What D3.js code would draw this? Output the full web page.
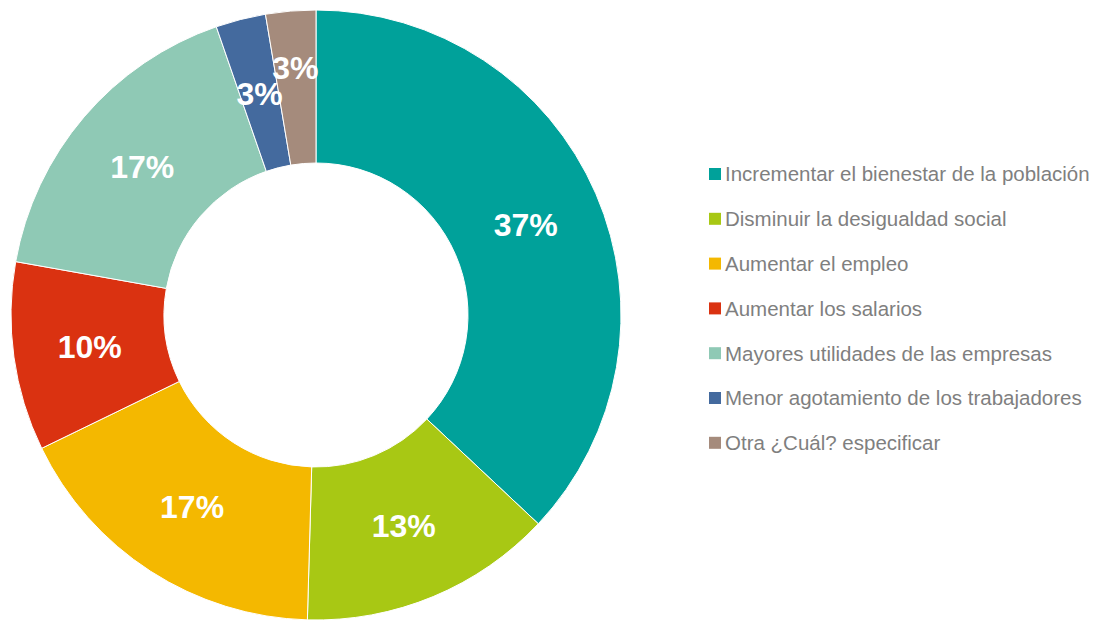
<!DOCTYPE html>
<html>
<head>
<meta charset="utf-8">
<script src="https://cdn.jsdelivr.net/npm/d3@7"></script>
<style>
  body { margin: 0; background: #fff; }
  svg { font-family: "Liberation Sans", Arial, sans-serif; }
</style>
</head>
<body>
<svg class="donut"></svg>
<script>
let width = 1107
let height = 620

let categories = [
  'Incrementar el bienestar de la población',
  'Disminuir la desigualdad social',
  'Aumentar el empleo',
  'Aumentar los salarios',
  'Mayores utilidades de las empresas',
  'Menor agotamiento de los trabajadores',
  'Otra ¿Cuál? especificar'
]
let values = [37.0, 13.45, 17.35, 10.0, 16.9, 2.65, 2.65]
let colors = ['#00a19a', '#a8c814', '#f4b800', '#da3211', '#8fc9b5', '#446a9e', '#a58b7c']

let svg = d3.select('.donut')
  .attr('width', width)
  .attr('height', height)

let outer = 305
let inner = 152
let cx = 316
let cy = 315

let g = svg.append('g')
  .attr('transform', `translate(${cx}, ${cy})`)

let total = d3.sum(values)
let pct = d3.format('.0%')

let color = d3.scaleOrdinal()
  .domain(categories)
  .range(colors)

let pie = d3.pie()
  .sort(null)
  .value((d, i) => values[i])

let arcs = pie(categories)

let path = d3.arc()
  .outerRadius(outer)
  .innerRadius(inner)

g.selectAll('path')
  .data(arcs)
  .enter()
  .append('path')
  .attr('d', path)
  .attr('fill', d => color(d.data))
  .attr('stroke', '#fff')
  .attr('stroke-width', 1)

// label positions: centroid, pushed outward if it bumps into the previous one
let mid = (inner + outer) / 2
let placed = []
arcs.forEach((d, i) => {
  let a = (d.startAngle + d.endAngle) / 2
  let r = mid
  let x = Math.sin(a) * r
  let y = -Math.cos(a) * r
  let prev = placed[i - 1]
  while (prev && Math.abs(prev.x - x) < 50 && Math.abs(prev.y - y) < 26) {
    r += 1
    x = Math.sin(a) * r
    y = -Math.cos(a) * r
  }
  placed.push({ x, y, d })
})

g.selectAll('text.lbl')
  .data(placed)
  .enter()
  .append('text')
  .attr('class', 'lbl')
  .attr('x', p => p.x)
  .attr('y', p => p.y)
  .attr('dy', '0.36em')
  .attr('text-anchor', 'middle')
  .attr('fill', '#fff')
  .attr('font-weight', 'bold')
  .attr('font-size', 32)
  .text(p => pct(p.d.value / total))

// legend
let legend = svg.append('g')
  .attr('transform', 'translate(709, 174)')

let row = d3.scaleBand()
  .domain(categories)
  .range([0, 44.8 * categories.length])
  .align(0)

let item = legend.selectAll('g')
  .data(categories)
  .enter()
  .append('g')
  .attr('transform', d => `translate(0, ${row(d)})`)

item.append('rect')
  .attr('x', 0)
  .attr('y', -6)
  .attr('width', 12)
  .attr('height', 12)
  .attr('fill', d => color(d))

item.append('text')
  .attr('x', 16)
  .attr('y', 0)
  .attr('dy', '0.36em')
  .attr('font-size', 20.5)
  .attr('fill', '#7f7f7f')
  .text(d => d)
</script>
</body>
</html>
